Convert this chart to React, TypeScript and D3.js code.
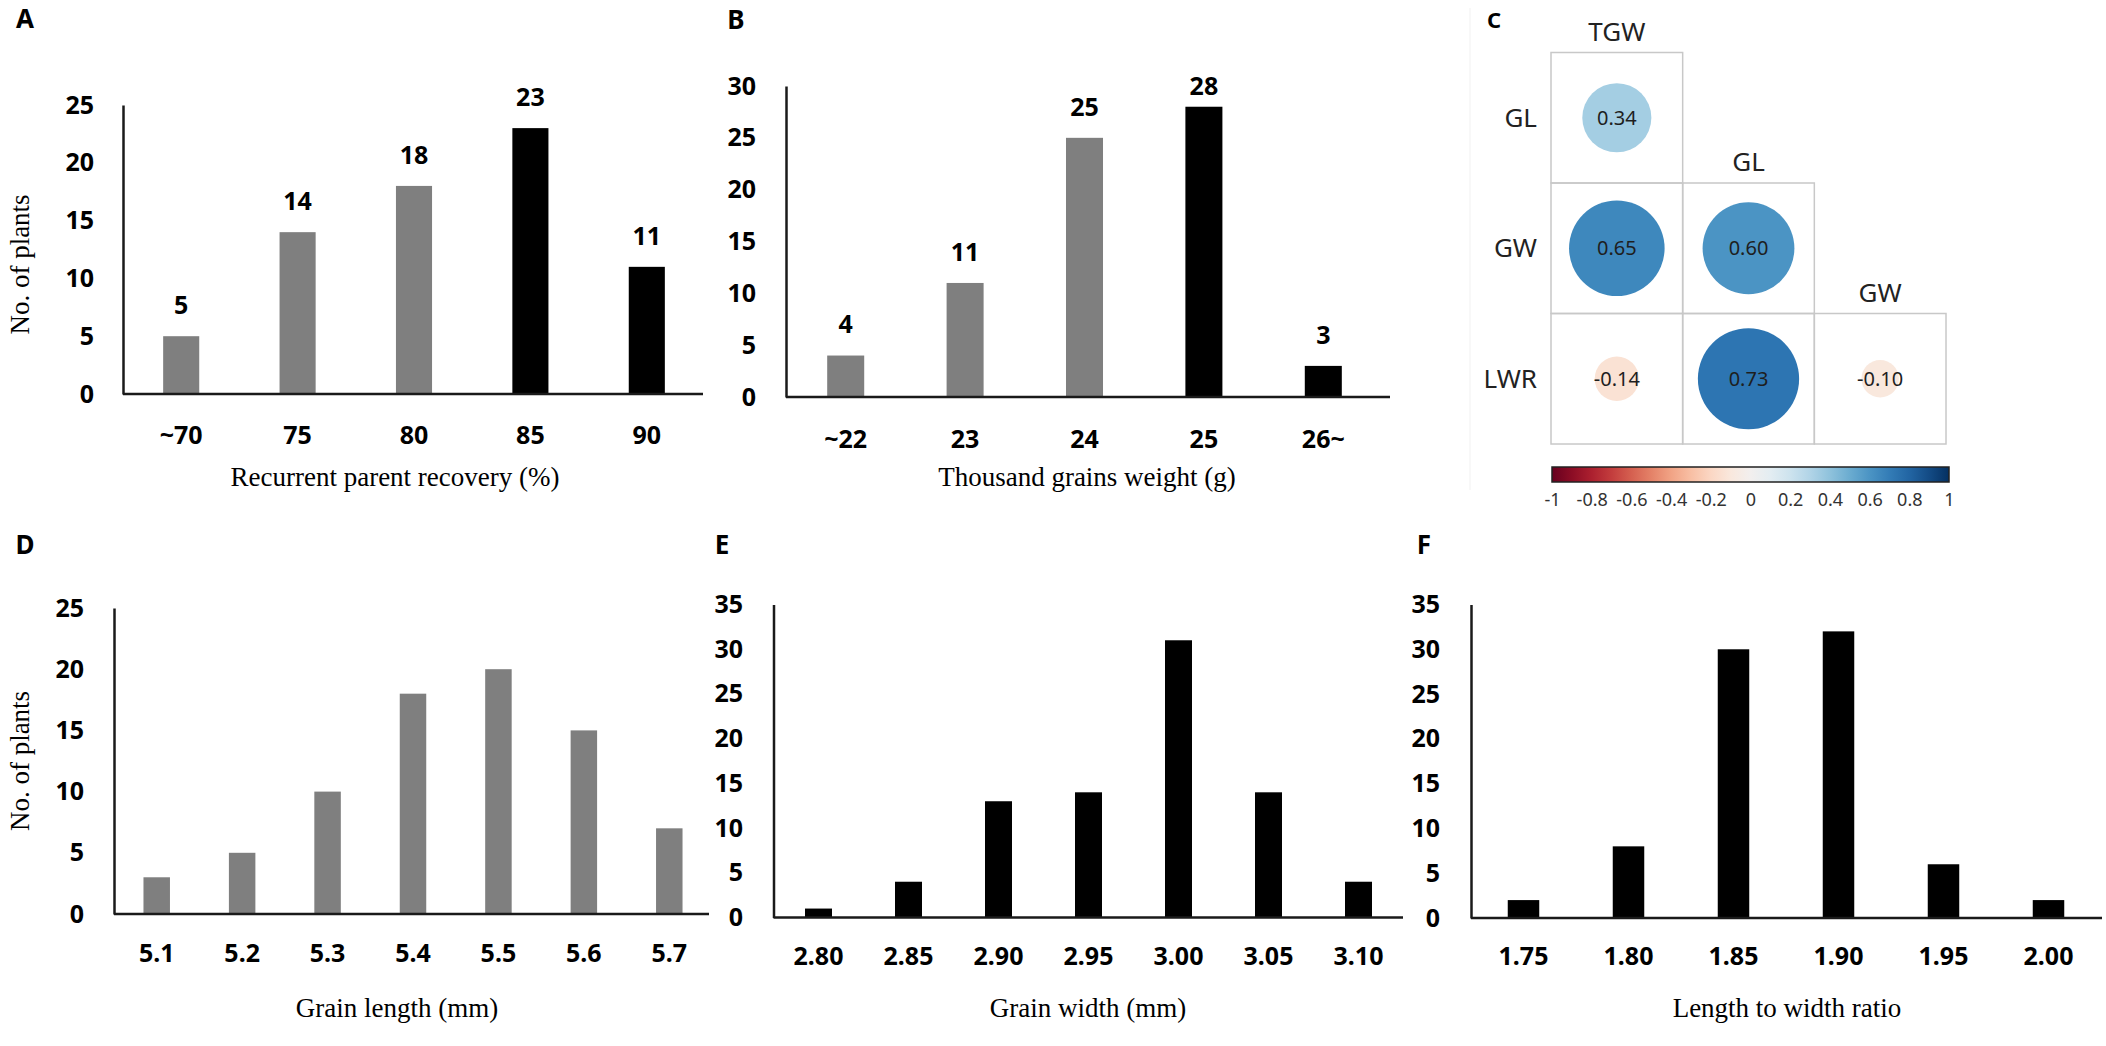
import React from 'react';
import * as d3 from 'd3';

// A: recurrent parent recovery
const rppCategories = ['~70', '75', '80', '85', '90'];
const rppCounts = [5, 14, 18, 23, 11];
const rppHighlighted = ['85', '90'];

// B: thousand grains weight
const tgwCategories = ['~22', '23', '24', '25', '26~'];
const tgwCounts = [4, 11, 25, 28, 3];
const tgwHighlighted = ['25', '26~'];

// D: grain length
const glCategories = ['5.1', '5.2', '5.3', '5.4', '5.5', '5.6', '5.7'];
const glCounts = [3, 5, 10, 18, 20, 15, 7];
const glHighlighted: string[] = [];

// E: grain width
const gwCategories = ['2.80', '2.85', '2.90', '2.95', '3.00', '3.05', '3.10'];
const gwCounts = [1, 4, 13, 14, 31, 14, 4];
const gwHighlighted = gwCategories;

// F: length to width ratio
const lwrCategories = ['1.75', '1.80', '1.85', '1.90', '1.95', '2.00'];
const lwrCounts = [2, 8, 30, 32, 6, 2];
const lwrHighlighted = lwrCategories;

// C: correlation matrix (lower triangle)
const corrRows = ['GL', 'GW', 'LWR'];
const corrCols = ['TGW', 'GL', 'GW'];
const corrValues = [
    [0.34],
    [0.65, 0.60],
    [-0.14, 0.73, -0.10],
];
const colorbarTicks = [-1, -0.8, -0.6, -0.4, -0.2, 0, 0.2, 0.4, 0.6, 0.8, 1];

const tickFont = '"Noto Sans", "Open Sans", sans-serif';
const titleFont = '"Liberation Serif", "DejaVu Serif", serif';

const drawBars = (svg: any, cfg: any) => {
    const g = svg.append('g');

    const x = d3.scaleBand()
        .domain(cfg.categories)
        .range([cfg.left, cfg.right])
        .paddingInner(cfg.pad)
        .paddingOuter(cfg.pad / 2);

    const y = d3.scaleLinear()
        .domain([0, cfg.yMax])
        .range([cfg.bottom, cfg.top]);

    // bars
    g.selectAll('rect')
        .data(cfg.counts)
        .enter()
            .append('rect')
            .attr('x', (d: number, i: number) => x(cfg.categories[i]))
            .attr('y', (d: number) => y(d))
            .attr('width', x.bandwidth())
            .attr('height', (d: number) => y(0) - y(d))
            .attr('fill', (d: number, i: number) => cfg.highlighted.includes(cfg.categories[i]) ? '#000000' : '#7f7f7f');

    // value labels
    if (cfg.showValues) {
        g.selectAll('.valueLabel')
            .data(cfg.counts)
            .enter()
                .append('text')
                .attr('class', 'valueLabel')
                .attr('x', (d: number, i: number) => x(cfg.categories[i])! + x.bandwidth() / 2)
                .attr('y', (d: number) => Math.max(y(d) - 31, cfg.valueMinY))
                .attr('dy', '0.35em')
                .style('text-anchor', 'middle')
                .style('font-family', tickFont)
                .style('font-weight', 700)
                .style('font-size', '25px')
                .text((d: number) => d);
    }

    // X axis
    const xAxis = g.append('g')
        .attr('transform', `translate(0,${cfg.bottom})`)
        .call(d3.axisBottom(x).tickSize(0).tickSizeOuter(0));
    xAxis.select('.domain')
        .attr('d', `M${cfg.left},0H${cfg.axisEnd}`)
        .attr('stroke', '#1a1a1a')
        .attr('stroke-width', 2.5);
    xAxis.selectAll('text')
        .attr('y', cfg.tickY - cfg.bottom)
        .attr('dy', '0.35em')
        .style('font-family', tickFont)
        .style('font-weight', 700)
        .style('font-size', '25px')
        .attr('fill', '#000');

    // Y axis
    const yAxis = g.append('g')
        .attr('transform', `translate(${cfg.left},0)`)
        .call(d3.axisLeft(y).tickValues(d3.range(0, cfg.yMax + 1, 5)).tickSize(0).tickSizeOuter(0));
    yAxis.select('.domain')
        .attr('stroke', '#1a1a1a')
        .attr('stroke-width', 2.5);
    yAxis.selectAll('text')
        .attr('x', cfg.labelRight - cfg.left)
        .style('font-family', tickFont)
        .style('font-weight', 700)
        .style('font-size', '25px')
        .attr('fill', '#000');

    // axis titles
    g.append('text')
        .attr('x', cfg.titleX)
        .attr('y', cfg.titleY)
        .attr('dy', '0.35em')
        .style('text-anchor', 'middle')
        .style('font-family', titleFont)
        .style('font-size', '27px')
        .text(cfg.xTitle);

    if (cfg.yTitle) {
        g.append('text')
            .attr('transform', `translate(20,${(cfg.top + cfg.bottom) / 2 + cfg.yTitleShift}) rotate(-90)`)
            .attr('dy', '0.35em')
            .style('text-anchor', 'middle')
            .style('font-family', titleFont)
            .style('font-size', '27px')
            .text(cfg.yTitle);
    }

    // panel letter
    g.append('text')
        .attr('x', cfg.panelX)
        .attr('y', cfg.panelY)
        .attr('dy', '0.35em')
        .style('text-anchor', 'middle')
        .style('font-family', tickFont)
        .style('font-weight', 700)
        .style('font-size', '26px')
        .text(cfg.panel);
};

const drawCorr = (svg: any) => {
    const g = svg.append('g');

    // faint frame edge of the embedded plot
    g.append('line')
        .attr('x1', 1470).attr('x2', 1470)
        .attr('y1', 8).attr('y2', 490)
        .attr('stroke', '#f6f6f6')
        .attr('stroke-width', 1.5);

    const x = d3.scaleBand().domain(corrCols).range([1551, 1946]);
    const y = d3.scaleBand().domain(corrRows).range([52.5, 444]);
    const r = d3.scaleSqrt().domain([0, 1]).range([0, 0.9 * x.bandwidth() / 2]);
    const color = (v: number) => d3.interpolateRdBu((v + 1) / 2);

    const cells: any[] = [];
    corrValues.forEach((row, i) => row.forEach((v, j) => cells.push({ row: corrRows[i], col: corrCols[j], v })));

    g.selectAll('.cell')
        .data(cells)
        .enter()
            .append('rect')
            .attr('class', 'cell')
            .attr('x', (d: any) => x(d.col))
            .attr('y', (d: any) => y(d.row))
            .attr('width', x.bandwidth())
            .attr('height', y.bandwidth())
            .attr('fill', 'none')
            .attr('stroke', '#c8c8c8')
            .attr('stroke-width', 1.5);

    g.selectAll('.dot')
        .data(cells)
        .enter()
            .append('circle')
            .attr('class', 'dot')
            .attr('cx', (d: any) => x(d.col)! + x.bandwidth() / 2)
            .attr('cy', (d: any) => y(d.row)! + y.bandwidth() / 2)
            .attr('r', (d: any) => r(Math.abs(d.v)))
            .attr('fill', (d: any) => color(d.v));

    g.selectAll('.num')
        .data(cells)
        .enter()
            .append('text')
            .attr('class', 'num')
            .attr('x', (d: any) => x(d.col)! + x.bandwidth() / 2)
            .attr('y', (d: any) => y(d.row)! + y.bandwidth() / 2)
            .attr('dy', '0.35em')
            .style('text-anchor', 'middle')
            .style('font-family', tickFont)
            .style('font-size', '20px')
            .attr('fill', '#1e1e1e')
            .text((d: any) => d.v.toFixed(2));

    // row labels
    g.selectAll('.rowLabel')
        .data(corrRows)
        .enter()
            .append('text')
            .attr('class', 'rowLabel')
            .attr('x', 1537)
            .attr('y', (d: string) => y(d)! + y.bandwidth() / 2)
            .attr('dy', '0.35em')
            .style('text-anchor', 'end')
            .style('font-family', tickFont)
            .style('font-size', '26px')
            .attr('fill', '#222')
            .text((d: string) => d);

    // column labels sit above the top cell of each column
    g.selectAll('.colLabel')
        .data(corrCols)
        .enter()
            .append('text')
            .attr('class', 'colLabel')
            .attr('x', (d: string) => x(d)! + x.bandwidth() / 2)
            .attr('y', (d: string, j: number) => y(corrRows[j])! - 21)
            .attr('dy', '0.35em')
            .style('text-anchor', 'middle')
            .style('font-family', tickFont)
            .style('font-size', '26px')
            .attr('fill', '#222')
            .text((d: string) => d);

    // colour bar
    const cb = d3.scaleLinear().domain([-1, 1]).range([1552, 1949]);
    const defs = svg.append('defs');
    const grad = defs.append('linearGradient').attr('id', 'rdbu');
    d3.range(0, 1.0001, 0.05).forEach((t: number) => {
        grad.append('stop')
            .attr('offset', `${t * 100}%`)
            .attr('stop-color', d3.interpolateRdBu(t));
    });
    g.append('rect')
        .attr('x', cb(-1))
        .attr('y', 467)
        .attr('width', cb(1) - cb(-1))
        .attr('height', 15)
        .attr('fill', 'url(#rdbu)')
        .attr('stroke', '#222')
        .attr('stroke-width', 1.5);

    const cbAxis = g.append('g')
        .attr('transform', 'translate(0,482)')
        .call(d3.axisBottom(cb).tickValues(colorbarTicks).tickSize(0).tickFormat((d: any) => `${d}`));
    cbAxis.select('.domain').remove();
    cbAxis.selectAll('text')
        .attr('y', 18)
        .attr('dy', '0.35em')
        .style('font-family', tickFont)
        .style('font-size', '18px')
        .attr('fill', '#333');

    g.append('text')
        .attr('x', 1494)
        .attr('y', 20)
        .attr('dy', '0.35em')
        .style('text-anchor', 'middle')
        .style('font-family', tickFont)
        .style('font-weight', 700)
        .style('font-size', '22px')
        .text('C');
};

const App = () => {
    const svgRef = React.useRef<SVGSVGElement>(null);

    React.useEffect(() => {
        const svg = d3.select(svgRef.current);
        svg.selectAll('*').remove();

        svg.append('rect').attr('width', 2106).attr('height', 1046).attr('fill', '#fff');

        drawBars(svg, {
            categories: rppCategories, counts: rppCounts, highlighted: rppHighlighted,
            left: 123, right: 705, axisEnd: 703, top: 105, bottom: 394, yMax: 25, pad: 0.69,
            labelRight: 94, tickY: 435, titleX: 395, titleY: 477,
            xTitle: 'Recurrent parent recovery (%)', yTitle: 'No. of plants', yTitleShift: 15,
            showValues: true, valueMinY: 0, panel: 'A', panelX: 25, panelY: 19,
        });

        drawBars(svg, {
            categories: tgwCategories, counts: tgwCounts, highlighted: tgwHighlighted,
            left: 786, right: 1383, axisEnd: 1390, top: 86, bottom: 397, yMax: 30, pad: 0.69,
            labelRight: 756, tickY: 439, titleX: 1087, titleY: 477,
            xTitle: 'Thousand grains weight (g)', yTitle: null,
            showValues: true, valueMinY: 86, panel: 'B', panelX: 736, panelY: 20,
        });

        drawBars(svg, {
            categories: glCategories, counts: glCounts, highlighted: glHighlighted,
            left: 114, right: 712, axisEnd: 709, top: 608, bottom: 914, yMax: 25, pad: 0.69,
            labelRight: 84, tickY: 953, titleX: 397, titleY: 1008,
            xTitle: 'Grain length (mm)', yTitle: 'No. of plants', yTitleShift: 0,
            showValues: false, panel: 'D', panelX: 25, panelY: 545,
        });

        drawBars(svg, {
            categories: gwCategories, counts: gwCounts, highlighted: gwHighlighted,
            left: 773.5, right: 1403.5, axisEnd: 1403, top: 604.5, bottom: 917.5, yMax: 35, pad: 0.7,
            labelRight: 743, tickY: 956, titleX: 1088, titleY: 1008,
            xTitle: 'Grain width (mm)', yTitle: null,
            showValues: false, panel: 'E', panelX: 722, panelY: 545,
        });

        drawBars(svg, {
            categories: lwrCategories, counts: lwrCounts, highlighted: lwrHighlighted,
            left: 1471, right: 2101, axisEnd: 2102, top: 604.5, bottom: 918, yMax: 35, pad: 0.7,
            labelRight: 1440, tickY: 956, titleX: 1787, titleY: 1008,
            xTitle: 'Length to width ratio', yTitle: null,
            showValues: false, panel: 'F', panelX: 1424, panelY: 545,
        });

        drawCorr(svg);
    }, []);

    return (
        <svg
            ref={svgRef}
            width={2106}
            height={1046}
            style={{ position: 'absolute', left: 0, top: 0, display: 'block' }}
        />
    );
};

export default App;
